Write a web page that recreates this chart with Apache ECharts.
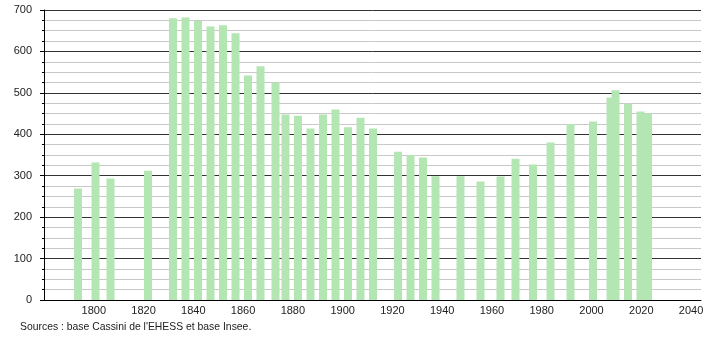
<!DOCTYPE html>
<html>
<head>
<meta charset="utf-8">
<script src="https://cdn.jsdelivr.net/npm/echarts@6/dist/echarts.min.js"></script>
<style>html,body{margin:0;padding:0;background:#fff}#c{width:710px;height:340px}</style>
</head>
<body>
<div id="c"></div>
<script>
var years = [1793,1800,1806,1821,1831,1836,1841,1846,1851,1856,1861,1866,1872,1876,1881,1886,1891,1896,1901,1906,1911,1921,1926,1931,1936,1946,1954,1962,1968,1975,1982,1990,1999,2006,2008,2013,2018,2021];
var population = [269,332,293,312,680,682,674,660,663,644,542,564,525,448,445,414,448,460,417,440,414,358,350,344,299,299,286,298,341,327,380,425,431,489,506,474,455,450];
var sourceText = "Sources : base Cassini de l'EHESS et base Insee.";

var chart = echarts.init(document.getElementById('c'), null, {renderer: 'canvas'});
var font = 'Liberation Sans, Arial, sans-serif';
chart.setOption({
  animation: false,
  backgroundColor: '#fff',
  title: {
    text: sourceText, left: 20, top: 322, padding: 0,
    textStyle: {fontSize: 10.4, fontWeight: 'normal', color: '#222', fontFamily: font}
  },
  grid: {left: 44, right: 9, top: 10, bottom: 40},
  xAxis: [{
    type: 'value', min: 1779.4, max: 2042.2,
    axisLine: {show: true, lineStyle: {color: '#000', width: 1}},
    axisTick: {show: false},
    splitLine: {show: false},
    axisLabel: {show: false}
  }, {
    type: 'value', position: 'bottom', min: 1780, max: 2044, interval: 20,
    axisLine: {show: false},
    axisTick: {show: false},
    splitLine: {show: false},
    axisLabel: {
      margin: 5, fontSize: 11, color: '#222', fontFamily: font,
      formatter: function (v) { return (v % 20 === 0 && v >= 1800) ? String(v) : ''; }
    }
  }],
  yAxis: {
    type: 'value', min: 0, max: 700, interval: 100,
    axisLine: {show: true, lineStyle: {color: '#000', width: 1}},
    axisTick: {show: true, length: 4, lineStyle: {color: '#000'}},
    minorTick: {show: true, splitNumber: 4, length: 2, lineStyle: {color: '#000'}},
    splitLine: {show: true, lineStyle: {color: '#333', width: 1}},
    minorSplitLine: {show: true, lineStyle: {color: '#c8c8c8', width: 1}},
    axisLabel: {margin: 12, fontSize: 11, color: '#222', fontFamily: font}
  },
  series: [{
    type: 'bar',
    xAxisIndex: 0,
    barWidth: 8,
    itemStyle: {color: '#b3e6b3'},
    data: years.map(function (y, i) { return [y, population[i]]; })
  }]
});
</script>
</body>
</html>
